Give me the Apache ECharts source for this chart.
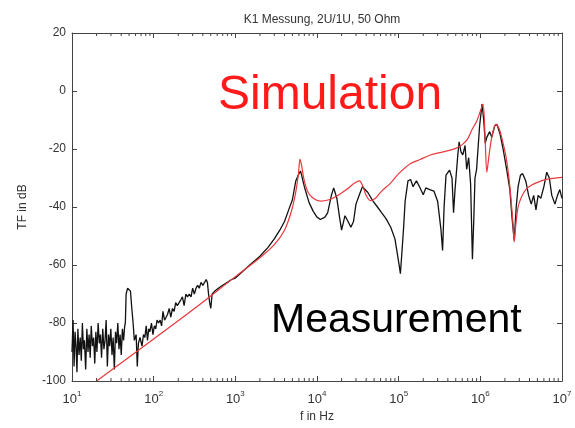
<!DOCTYPE html>
<html>
<head>
<meta charset="utf-8">
<script src="https://cdn.jsdelivr.net/npm/echarts@6/dist/echarts.min.js"></script>
<style>
  html, body { margin: 0; padding: 0; background: #fff; }
  #main { width: 575px; height: 428px; }
</style>
</head>
<body>
<div id="main"></div>
<script>
// measured transfer function (black)
var measFreq = [10, 10.3, 10.6, 10.9, 11.2, 11.5, 11.8, 12.2, 12.6, 13, 13.4, 13.8, 14.2, 14.7, 15.2, 15.7, 16.2, 16.7,
    17.2, 17.8, 18.4, 19, 19.6, 20.2, 20.9, 21.6, 22.3, 23, 23.8, 24.6, 25.4, 26.2, 27.1, 28, 28.9, 29.9, 30.9, 31.9,
    33, 34.1, 35.2, 36.4, 37.6, 38.8, 40.1, 41.4, 42.8, 44.2,
    45, 46, 48, 50, 52, 54, 56, 58, 61, 63, 65, 68,
    72, 75, 78, 81, 84, 87, 90, 94, 98, 102, 106, 110, 115, 120, 125, 130, 136, 142, 148, 155, 162, 170, 178, 186, 195,
    205, 215, 225, 236, 248, 260, 273, 287, 300, 315, 330, 345, 362, 380, 400, 420, 440, 455, 470, 485, 500, 520,
    560, 620, 700, 800, 900, 1000, 1200, 1500,
    2000, 2500, 3000, 3500, 4000, 4500, 5000, 5500, 6000, 6300, 7000, 8000, 9000, 10000, 11000, 12500, 13500, 15000, 16000,
    17500, 19000, 20000, 22000, 24000, 26000, 28000, 30000, 33000, 36000, 38000, 42000, 48000, 55000, 62000, 70000, 80000,
    90000, 100000, 105000, 110000, 115000, 120000, 130000, 140000, 150000, 165000, 180000, 200000, 215000, 240000, 270000,
    300000, 330000, 345000, 360000, 380000, 420000, 450000, 470000, 490000, 530000, 550000, 580000, 610000, 650000, 680000,
    720000, 760000, 800000, 830000, 860000, 900000, 980000, 1050000, 1100000, 1150000, 1200000, 1300000, 1380000, 1500000,
    1600000, 1750000, 1900000, 2100000, 2300000, 2450000, 2600000, 2750000, 2900000, 3100000, 3300000, 3600000, 3900000,
    4200000, 4500000, 4800000, 5100000, 5500000, 6000000, 6500000, 7000000, 7500000, 8200000, 8800000, 9400000, 10000000];
var measDb = [-90, -79, -95, -83, -88, -97, -82, -91, -85, -93, -80, -89, -86, -96, -82, -90, -84, -92,
    -81, -88, -85, -94, -83, -90, -80, -87, -84, -92, -82, -89, -86, -79, -95, -84, -88, -82, -91, -85,
    -96, -83, -87, -80, -89, -84, -91, -82, -86, -81,
    -80, -70, -68, -68.5, -69, -75, -80, -86, -84, -95, -87, -85,
    -88, -84, -85, -81, -86, -82, -83, -80, -84, -81, -82, -79, -80, -79, -81, -76, -79, -78, -77, -75, -78, -75, -76, -73, -74,
    -73, -72, -71, -74, -70, -71, -70, -71, -68, -70, -68, -67, -68, -66, -67, -66, -65, -66, -70, -73, -75, -70,
    -69, -68, -67, -66, -65, -64.5, -62.5, -60,
    -57, -54, -51, -48, -45, -41, -37.5, -31, -28.5, -27.6, -33, -38.5, -41.5, -43.5, -44.3, -43.5, -42, -36, -33.4,
    -37, -44, -48, -43, -45, -47, -45, -39, -35.8, -33, -32.7, -35, -37.8, -40, -42, -44, -47,
    -51, -59, -63, -55, -47, -38, -31, -30.5, -33, -31, -33, -35.8, -33.4, -34, -34.5,
    -38, -48, -55, -40, -29, -27.3, -30, -42, -34, -22, -17.5, -21, -22, -18.8, -27,
    -23, -32, -58, -45, -30, -27, -12, -4.5, -10, -18, -16, -14, -16, -12,
    -11.5, -15, -20, -27, -34, -44, -51.5, -40, -33, -29, -28.5, -31, -36,
    -39, -36, -41, -36, -37, -33, -28, -30, -36, -39, -36, -34, -37];

// simulated transfer function (red)
var simFreq = [20, 100, 316, 1000, 2000, 3000, 4000, 4800, 5400, 5900, 6200, 6500, 7000, 7800, 9000, 11000, 14000,
    18000, 23000, 28000, 33000, 36000, 40000, 45000, 52000, 62000, 78000, 100000, 140000, 180000, 250000, 350000,
    500000, 600000, 700000, 800000, 900000, 1000000, 1080000, 1150000, 1200000, 1280000, 1400000, 1550000, 1700000,
    1900000, 2100000, 2300000, 2500000, 2600000, 2700000, 2900000, 3200000, 3600000, 4200000, 5000000, 6500000, 10000000];
var simDb = [-100, -85.5, -75, -64, -57.5, -53, -48, -42, -36, -29, -23.5, -26, -31, -35, -37, -38, -37.5,
    -36, -34, -32, -31, -32.5, -36, -37.8, -37, -34.5, -32, -28.5, -25, -23.7, -22, -21,
    -19.8, -18.5, -16.5, -13, -10.5, -7, -4.5, -18, -28, -22, -15, -11.5, -13,
    -18, -24, -33, -45, -52, -47, -40, -36.5, -34, -32.5, -31.5, -30.5, -29.8];

var yTicks = [-100, -80, -60, -40, -20, 0, 20];
var decades = [10, 100, 1000, 10000, 100000, 1000000];
var minorSteps = [2, 3, 4, 5, 6, 7, 8, 9];

var minorTicks = [];
decades.forEach(function (d) {
    minorSteps.forEach(function (m) { minorTicks.push([d * m]); });
});

function zip(a, b) {
    return a.map(function (v, i) { return [v, b[i]]; });
}

var FONT = '"Liberation Sans", Arial, sans-serif';
var GRAY = '#444';

var myChart = echarts.init(document.getElementById('main'));

var xBase = {
    type: 'log',
    logBase: 10,
    min: 10,
    max: 10000000,
    axisLine: { show: true, onZero: false, lineStyle: { color: GRAY, width: 1 } },
    axisTick: { show: true, inside: true, length: 5, lineStyle: { color: GRAY } },
    splitLine: { show: false }
};

var yBase = {
    type: 'value',
    min: yTicks[0],
    max: yTicks[yTicks.length - 1],
    interval: 20,
    axisLine: { show: true, onZero: false, lineStyle: { color: GRAY, width: 1 } },
    axisTick: { show: true, inside: true, length: 5, lineStyle: { color: GRAY } },
    splitLine: { show: false }
};

myChart.setOption({
    animation: false,
    backgroundColor: '#fff',
    title: {
        text: 'K1 Messung, 2U/1U, 50 Ohm',
        left: 317,
        top: 9,
        textAlign: 'center',
        textStyle: { fontFamily: FONT, fontSize: 12, fontWeight: 'normal', color: '#333' }
    },
    grid: { left: 72, right: 13, top: 33, bottom: 42 },
    xAxis: [
        echarts.util.merge({
            position: 'bottom',
            name: 'f in Hz',
            nameLocation: 'middle',
            nameGap: 30,
            nameTextStyle: { fontFamily: FONT, fontSize: 12, color: '#333' },
            axisLabel: {
                margin: 9,
                formatter: function (v) {
                    var e = Math.round(Math.log10(v));
                    return '{b|10}{e|' + e + '}';
                },
                rich: {
                    b: { fontFamily: FONT, fontSize: 13, color: '#333' },
                    e: { fontFamily: FONT, fontSize: 8, color: '#333', padding: [0, 0, 10, 0] }
                }
            }
        }, xBase, true),
        echarts.util.merge({ position: 'top', axisLabel: { show: false } }, xBase, true)
    ],
    yAxis: [
        echarts.util.merge({
            position: 'left',
            name: 'TF in dB',
            nameLocation: 'middle',
            nameGap: 43,
            nameTextStyle: { fontFamily: FONT, fontSize: 12, color: '#333' },
            axisLabel: { fontFamily: FONT, fontSize: 12, color: '#333', margin: 6 }
        }, yBase, true),
        echarts.util.merge({ position: 'right', axisLabel: { show: false } }, yBase, true)
    ],
    graphic: [
        {
            type: 'text',
            left: 218,
            top: 72,
            style: { text: 'Simulation', fill: '#ff1a1a', fontFamily: FONT, fontSize: 48 }
        },
        {
            type: 'text',
            left: 271,
            top: 300,
            style: { text: 'Measurement', fill: '#000', fontFamily: FONT, fontSize: 41 }
        }
    ],
    series: [
        {
            name: 'Measurement',
            type: 'line',
            data: zip(measFreq, measDb),
            showSymbol: false,
            lineStyle: { color: '#111', width: 1.3 },
            z: 3
        },
        {
            name: 'Simulation',
            type: 'line',
            data: zip(simFreq, simDb),
            showSymbol: false,
            smooth: 0.3,
            lineStyle: { color: '#e8383d', width: 1.2 },
            z: 4
        },
        {
            // minor ticks of the log axis, bottom and top
            type: 'custom',
            silent: true,
            data: minorTicks,
            renderItem: function (params, api) {
                var b = api.coord([api.value(0), yTicks[0]]);
                var t = api.coord([api.value(0), yTicks[yTicks.length - 1]]);
                var st = { stroke: GRAY, lineWidth: 1 };
                return {
                    type: 'group',
                    children: [
                        { type: 'line', shape: { x1: b[0], y1: b[1], x2: b[0], y2: b[1] - 3 }, style: st },
                        { type: 'line', shape: { x1: t[0], y1: t[1], x2: t[0], y2: t[1] + 3 }, style: st }
                    ]
                };
            },
            z: 5
        }
    ]
});
</script>
</body>
</html>
